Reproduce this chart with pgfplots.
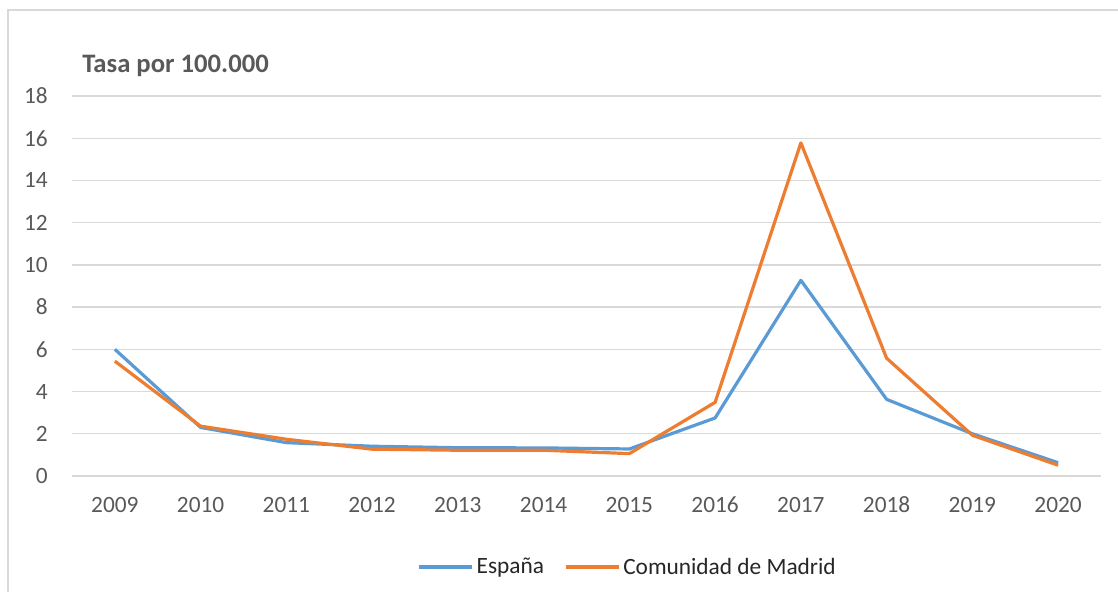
\documentclass[border=0pt]{standalone}
\usepackage{fontspec}
\setmainfont{Carlito}
\usepackage{pgfplots}
\pgfplotsset{compat=1.18}
\definecolor{espana}{HTML}{5B9BD5}
\definecolor{madrid}{HTML}{ED7D31}
\definecolor{gridc}{HTML}{D9D9D9}
\definecolor{txt}{HTML}{595959}
\begin{document}
\begin{tikzpicture}
  \path[use as bounding box] (0,0) rectangle (838.5pt,444pt);
  \clip (0,0) rectangle (838.5pt,444pt);
  \draw[gridc, line width=1pt] (6pt,0) -- (6pt,436.5pt) -- (840pt,436.5pt);
  \node[anchor=base west, inner sep=0pt, text=txt, font=\fontsize{20}{22}\selectfont\bfseries]
    at (61.5pt,389.25pt) {Tasa por 100.000};
  \begin{axis}[
      at={(54pt,87pt)}, anchor=south west,
      scale only axis, width=771.75pt, height=285pt,
      xmin=-0.5, xmax=11.5, ymin=0, ymax=18,
      xtick={0,...,11},
      xticklabels={2009,2010,2011,2012,2013,2014,2015,2016,2017,2018,2019,2020},
      ytick={0,2,...,18},
      /pgf/number format/assume math mode=true,
      axis line style={draw=none},
      major tick length=0pt,
      ymajorgrids, major grid style={gridc, line width=1pt},
      tick label style={text=txt, font=\fontsize{17.5}{20}\selectfont, inner sep=0pt},
      yticklabel style={anchor=east, xshift=-18pt},
      xticklabel style={anchor=north, yshift=-15.5pt},
      legend columns=2,
      legend style={at={(0.5403,-0.2395)}, anchor=center, draw=none,
        fill=none, font=\fontsize{17.5}{20}\selectfont, text=black!85,
        /tikz/every even column/.append style={column sep=13pt},
        inner sep=0pt},
      legend image code/.code={\draw[#1] (0pt,0pt) -- (40pt,0pt);},
      every axis plot/.append style={line width=2.4pt, line join=round, no markers},
    ]
    \addplot[espana] coordinates {
      (0,6.0) (1,2.3) (2,1.58) (3,1.41) (4,1.34) (5,1.33)
      (6,1.28) (7,2.75) (8,9.27) (9,3.63) (10,2.0) (11,0.63)};
    \addlegendentry{España}
    \addplot[madrid] coordinates {
      (0,5.44) (1,2.36) (2,1.74) (3,1.27) (4,1.22) (5,1.22)
      (6,1.06) (7,3.49) (8,15.78) (9,5.58) (10,1.93) (11,0.51)};
    \addlegendentry{Comunidad de Madrid}
  \end{axis}
\end{tikzpicture}
\end{document}
